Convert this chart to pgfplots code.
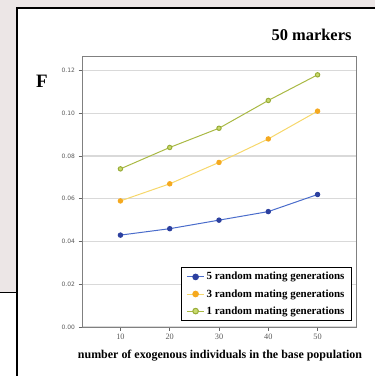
\documentclass[border=0pt]{standalone}
\usepackage{pgfplots}
\pgfplotsset{compat=1.18}
\usepackage{fontspec}
\setmainfont{Liberation Serif}
\newfontfamily\tickfont{DejaVu Sans}
\definecolor{bggray}{HTML}{ECE6E6}
\definecolor{gline}{HTML}{A9B944}
\definecolor{gfill}{HTML}{C9DA6C}
\definecolor{gedge}{HTML}{98AC38}
\definecolor{oline}{HTML}{F6D76A}
\definecolor{ofill}{HTML}{F5A91F}
\definecolor{bline}{HTML}{4A6CCB}
\definecolor{bfill}{HTML}{2C409F}
\begin{document}
\begin{tikzpicture}[x=1bp,y=1bp]
\useasboundingbox (0,0) rectangle (375,-376);
\fill[bggray] (0,0) rectangle (375,-8);
\fill[bggray] (0,0) rectangle (17,-292);
\draw[black,line width=1bp] (0,-292) -- (17,-292);
\draw[black,line width=1.3bp] (17,-376) -- (17,-8) -- (375,-8);
\node[anchor=east,font=\bfseries\fontsize{16.5}{18}\selectfont] at (355,-35) {50 markers};
\node[font=\bfseries\fontsize{19}{20}\selectfont] at (42,-81) {F};
\begin{axis}[
  at={(82bp,-327bp)}, anchor=south west,
  scale only axis, width=274bp, height=271bp,
  xmin=2.2, xmax=57.8, ymin=0, ymax=0.1268,
  xtick={10,20,30,40,50},
  ytick={0,0.02,0.04,0.06,0.08,0.10,0.12},
  yticklabel style={/pgf/number format/.cd,fixed,fixed zerofill,precision=2},
  /pgf/number format/assume math mode=true,
  tick label style={font=\tickfont\fontsize{6}{6.5}\selectfont, text=black!65},
  xticklabel style={font=\fontsize{8.3}{9}\selectfont},
  tick align=outside, xtick pos=bottom, ytick pos=left,
  major tick length=3.5bp,
  tick style={black!60, line width=0.8bp},
  ymajorgrids, grid style={black!15, line width=1.4bp},
  axis line style={black!50, line width=1bp},
  legend style={at={(0.985,0.022)}, anchor=south east, draw=black, line width=0.8bp,
    font=\bfseries\fontsize{11}{12}\selectfont, row sep=4bp, inner ysep=3bp, inner xsep=5bp},
  legend image post style={mark size=2.8bp},
  legend cell align=left,
]
\addplot[bline, line width=1bp, mark=*, mark size=2.2bp, mark options={fill=bfill, draw=bfill}]
  coordinates {(10,0.043) (20,0.046) (30,0.050) (40,0.054) (50,0.062)};
\addlegendentry{5 random mating generations}
\addplot[oline, line width=1bp, mark=*, mark size=2.2bp, mark options={fill=ofill, draw=ofill}]
  coordinates {(10,0.059) (20,0.067) (30,0.077) (40,0.088) (50,0.101)};
\addlegendentry{3 random mating generations}
\addplot[gline, line width=1bp, mark=*, mark size=2.2bp, mark options={fill=gfill, draw=gedge}]
  coordinates {(10,0.074) (20,0.084) (30,0.093) (40,0.106) (50,0.118)};
\addlegendentry{1 random mating generations}
\end{axis}
\node[font=\bfseries\fontsize{12}{13}\selectfont] at (220,-356) {number of exogenous individuals in the base population};
\end{tikzpicture}
\end{document}
